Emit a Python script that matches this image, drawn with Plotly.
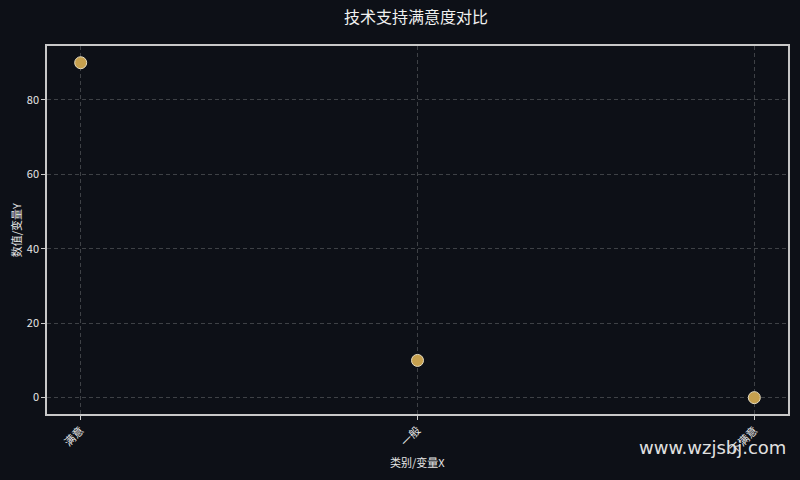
import plotly.graph_objects as go

# Data
categories = ['满意', '一般', '不满意']
values = [90, 10, 0]

bg = '#0d1017'
font_family = 'Noto Sans CJK SC, Noto Sans, sans-serif'

fig = go.Figure()

fig.add_trace(go.Scatter(
    x = categories, y = values,
    mode = 'markers',
    marker = dict(size = 12, color = '#c6a04e',
                  line = dict(width = 1, color = '#e6dcc0')),
    showlegend = False))

fig.update_layout(
    width = 800, height = 480,
    paper_bgcolor = bg, plot_bgcolor = bg,
    font = dict(family = font_family, color = '#e6e6e6', size = 11),
    title = dict(text = '技术支持满意度对比', x = 0.52, xanchor = 'center',
                 y = 0.963, yanchor = 'middle',
                 font = dict(size = 16, color = '#f0f0f0')),
    margin = dict(l = 47, r = 12, t = 46, b = 66),
    xaxis = dict(
        automargin = False,
        range = [-0.1, 2.1],
        tickangle = -45,
        ticks = 'outside', ticklen = 4, tickcolor = '#cccccc',
        showgrid = True, gridcolor = '#3e4146', griddash = '4px,3px', gridwidth = 1,
        showline = True, linecolor = '#c8c8c8', linewidth = 1.5, mirror = True,
        zeroline = False),
    yaxis = dict(
        automargin = False,
        range = [-4.4, 94.5],
        tickvals = [0, 20, 40, 60, 80],
        ticks = 'outside', ticklen = 4, tickcolor = '#cccccc',
        showgrid = True, gridcolor = '#3e4146', griddash = '4px,3px', gridwidth = 1,
        showline = True, linecolor = '#c8c8c8', linewidth = 1.5, mirror = True,
        zeroline = False))

# Axis titles
fig.add_annotation(
    text = '类别/变量X', xref = 'paper', yref = 'paper',
    x = 0.5, y = -0.131, xanchor = 'center', yanchor = 'middle',
    showarrow = False, font = dict(size = 11))
fig.add_annotation(
    text = '数值/变量Y', xref = 'paper', yref = 'paper',
    x = -0.0415, y = 0.5, xanchor = 'center', yanchor = 'middle',
    textangle = -90, showarrow = False, font = dict(size = 11))

# Watermark
fig.add_annotation(
    text = 'www.wzjsbj.com', xref = 'paper', yref = 'paper',
    x = 1.0, y = -0.09, xanchor = 'right', yanchor = 'middle',
    showarrow = False,
    font = dict(size = 18, color = '#e0e0e0', family = 'DejaVu Sans, sans-serif'))

fig.write_html('out.html', config = dict(displayModeBar = False),
               post_script = "document.body.style.margin='0';document.body.style.background='%s';" % bg)
